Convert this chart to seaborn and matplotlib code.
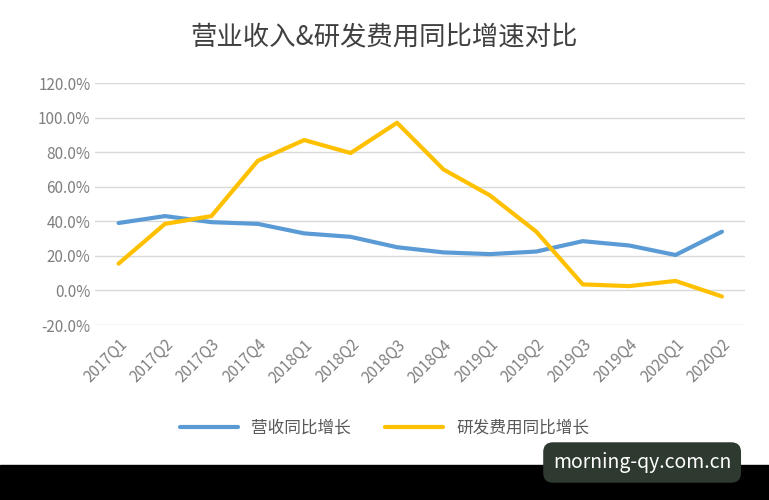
import numpy as np
import pandas as pd
import matplotlib
matplotlib.use('Agg')
import matplotlib.pyplot as plt
import seaborn as sns
from matplotlib.ticker import FuncFormatter
from matplotlib.lines import Line2D

quarters = ['2017Q1', '2017Q2', '2017Q3', '2017Q4', '2018Q1', '2018Q2', '2018Q3',
            '2018Q4', '2019Q1', '2019Q2', '2019Q3', '2019Q4', '2020Q1', '2020Q2']
revenue_growth = [39.0, 43.0, 39.5, 38.5, 33.0, 31.0, 25.0, 22.0, 21.0, 22.5, 28.5, 26.0, 20.5, 34.0]
rd_growth = [15.5, 38.5, 43.0, 75.0, 87.0, 79.5, 97.0, 70.0, 55.0, 34.0, 3.5, 2.5, 5.5, -3.5]

sns.set_style('white')
plt.rcParams['font.family'] = ['Noto Sans CJK SC', 'DejaVu Sans']

df = pd.DataFrame({'季度': quarters, '营收同比增长': revenue_growth, '研发费用同比增长': rd_growth})
long_df = df.melt(id_vars='季度', var_name='系列', value_name='增速')

fig = plt.figure(figsize=(7.69, 5.0), dpi=100)
ax = fig.add_axes([0.124, 0.35, 0.845, 0.484])
sns.lineplot(data=long_df, x='季度', y='增速', hue='系列', sort=False,
             palette=['#5B9BD5', '#FFC000'], linewidth=3, ax=ax, legend=False)

ax.set_ylim(-20, 120)
ax.set_yticks(np.arange(-20, 121, 20))
ax.yaxis.set_major_formatter(FuncFormatter(lambda v, p: f'{v:.1f}%'))
ax.set_xlim(-0.5, len(quarters) - 0.5)
ax.grid(axis='y', color='#D9D9D9', linewidth=1)
for s in ax.spines.values():
    s.set_visible(False)
ax.tick_params(axis='both', length=0, labelsize=11, colors='#7f7f7f')
ax.tick_params(axis='x', pad=8)
plt.setp(ax.get_xticklabels(), rotation=45, ha='right', rotation_mode='anchor')
ax.set_xlabel('')
ax.set_ylabel('')

fig.text(0.5, 0.924, '营业收入&研发费用同比增速对比', ha='center', va='center',
         fontsize=19, color='#404040')

handles = [Line2D([], [], color='#5B9BD5', lw=3), Line2D([], [], color='#FFC000', lw=3)]
fig.legend(handles, ['营收同比增长', '研发费用同比增长'], loc='center', ncol=2,
           bbox_to_anchor=(0.5, 0.144), frameon=False, fontsize=12,
           labelcolor='#595959', handlelength=3.5, columnspacing=2)

# bottom black band and site label
fig.patches.append(plt.Rectangle((0, 0), 1, 0.07, transform=fig.transFigure,
                                 color='black', zorder=0))
fig.text(0.835, 0.075, 'morning-qy.com.cn', ha='center', va='center', fontsize=14,
         color='white', bbox=dict(boxstyle='round,pad=0.5', fc='#2e3a30', ec='none'))

fig.savefig('out.png', dpi=100)
